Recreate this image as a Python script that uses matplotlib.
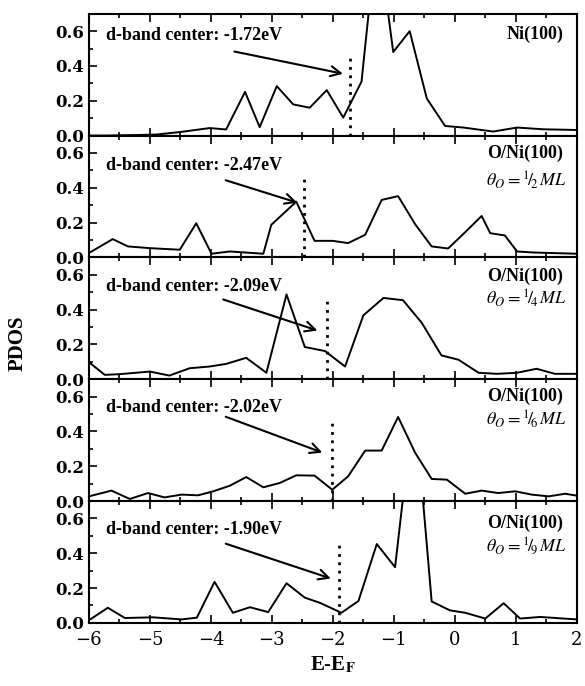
import numpy as np
import matplotlib
matplotlib.use('Agg')
import matplotlib.pyplot as plt
from matplotlib.ticker import MultipleLocator, FormatStrFormatter

plt.rcParams['mathtext.fontset'] = 'stix'
plt.rcParams['font.family'] = 'DejaVu Serif'

# panel 1: Ni(100)
e1 = [-6.0, -5.7, -5.45, -5.22, -4.89, -4.51, -4.02, -3.75, -3.44, -3.20, -2.92, -2.65, -2.38, -2.10,
      -1.83, -1.53, -1.37, -1.15, -1.01, -0.74, -0.46, -0.16, 0.14, 0.63, 1.02, 1.45, 2.0]
d1 = [0.0, 0.0, 0.002, 0.003, 0.006, 0.02, 0.043, 0.035, 0.251, 0.048, 0.284, 0.179, 0.16, 0.261,
      0.103, 0.31, 0.85, 0.85, 0.48, 0.60, 0.213, 0.055, 0.046, 0.023, 0.046, 0.036, 0.032]
# panel 2: 1/2 ML
e2 = [-6.0, -5.61, -5.36, -5.0, -4.51, -4.24, -3.99, -3.69, -3.14, -3.01, -2.60, -2.30, -2.0, -1.75,
      -1.47, -1.20, -0.93, -0.65, -0.38, -0.11, 0.17, 0.44, 0.58, 0.82, 1.02, 1.29, 2.0]
d2 = [0.025, 0.105, 0.063, 0.053, 0.044, 0.196, 0.021, 0.034, 0.021, 0.187, 0.32, 0.095, 0.095, 0.082,
      0.13, 0.33, 0.352, 0.19, 0.063, 0.051, 0.145, 0.238, 0.139, 0.126, 0.034, 0.028, 0.021]
# panel 3: 1/4 ML
e3 = [-6.0, -5.74, -5.5, -5.0, -4.68, -4.35, -4.02, -3.75, -3.42, -3.09, -2.76, -2.46, -2.13, -1.80,
      -1.5, -1.17, -0.85, -0.54, -0.22, 0.06, 0.39, 0.69, 1.02, 1.34, 1.64, 2.0]
d3 = [0.098, 0.025, 0.029, 0.044, 0.021, 0.063, 0.073, 0.088, 0.123, 0.037, 0.487, 0.185, 0.162, 0.073,
      0.367, 0.467, 0.454, 0.323, 0.137, 0.112, 0.037, 0.031, 0.037, 0.06, 0.031, 0.031]
# panel 4: 1/6 ML
e4 = [-6.0, -5.63, -5.33, -5.03, -4.76, -4.48, -4.21, -3.96, -3.69, -3.42, -3.14, -2.87, -2.60, -2.30,
      -2.01, -1.75, -1.47, -1.20, -0.93, -0.65, -0.38, -0.13, 0.17, 0.44, 0.71, 0.99, 1.26, 1.54, 1.81, 2.0]
d4 = [0.027, 0.06, 0.012, 0.046, 0.021, 0.037, 0.033, 0.056, 0.088, 0.138, 0.079, 0.104, 0.148, 0.146,
      0.065, 0.142, 0.29, 0.29, 0.483, 0.277, 0.127, 0.123, 0.042, 0.06, 0.046, 0.056, 0.037, 0.027, 0.042, 0.031]
# panel 5: 1/9 ML
e5 = [-6.0, -5.69, -5.41, -4.95, -4.48, -4.23, -3.94, -3.64, -3.36, -3.06, -2.76, -2.46, -2.21, -1.86,
      -1.58, -1.28, -0.98, -0.79, -0.57, -0.38, -0.08, 0.17, 0.50, 0.80, 1.07, 1.40, 2.0]
d5 = [0.015, 0.087, 0.028, 0.032, 0.02, 0.03, 0.236, 0.058, 0.09, 0.062, 0.228, 0.145, 0.115, 0.058,
      0.126, 0.453, 0.32, 0.9, 0.9, 0.123, 0.072, 0.058, 0.025, 0.113, 0.025, 0.034, 0.02]

energies = [e1, e2, e3, e4, e5]
pdos = [d1, d2, d3, d4, d5]
centers = [-1.72, -2.47, -2.09, -2.02, -1.90]
systems = ['Ni(100)', 'O/Ni(100)', 'O/Ni(100)', 'O/Ni(100)', 'O/Ni(100)']
coverages = [None, '2', '4', '6', '9']
# arrow tails and heads (E, PDOS), text y position
arrow_tail = [(-3.66, 0.486), (-3.80, 0.448), (-3.84, 0.463), (-3.80, 0.49), (-3.80, 0.46)]
arrow_head = [(-1.79, 0.352), (-2.54, 0.31), (-2.21, 0.275), (-2.13, 0.273), (-1.99, 0.25)]
text_y = [0.575, 0.53, 0.53, 0.537, 0.534]
sys_y = [0.58, 0.598, 0.59, 0.60, 0.57]
cov_y = [None, 0.444, 0.467, 0.47, 0.44]

fig = plt.figure(figsize=(5.85, 6.86), dpi=100)
fig.subplots_adjust(left=0.152, right=0.986, top=0.980, bottom=0.092, hspace=0)
axes = fig.subplots(5, 1, sharex=True)

for i, ax in enumerate(axes):
	ax.plot(energies[i], pdos[i], color='k', lw=1.4)
	ax.plot([centers[i], centers[i]], [0, 0.47], color='k', ls=(0, (1, 2)), lw=2)
	ax.annotate('', xy=arrow_head[i], xytext=arrow_tail[i],
		arrowprops=dict(arrowstyle='->', color='k', lw=1.5, mutation_scale=18))
	ax.text(-5.72, text_y[i], 'd-band center: %.2feV' % centers[i], family='Liberation Serif',
		fontweight='bold', fontsize=13, va='center', ha='left')
	ax.text(1.78, sys_y[i], systems[i], family='Liberation Serif', fontweight='bold',
		fontsize=13, va='center', ha='right')
	if coverages[i]:
		ax.text(1.84, cov_y[i], r'$\theta_O = {}^{1}\!/\!{}_{%s}\,ML$' % coverages[i],
			fontsize=13, va='center', ha='right')
	ax.set_xlim(-6, 2)
	ax.set_ylim(0, 0.7)
	ax.xaxis.set_major_locator(MultipleLocator(1))
	ax.xaxis.set_minor_locator(MultipleLocator(0.5))
	ax.yaxis.set_major_locator(MultipleLocator(0.2))
	ax.yaxis.set_minor_locator(MultipleLocator(0.1))
	ax.yaxis.set_major_formatter(FormatStrFormatter('%.1f'))
	ax.tick_params(which='both', direction='in', top=True, right=False, width=1.2)
	ax.tick_params(which='major', length=6, labelsize=12)
	ax.tick_params(which='minor', length=3)
	for s in ax.spines.values():
		s.set_linewidth(1.5)
	for lab in ax.get_yticklabels():
		lab.set_fontweight('bold')

axes[-1].tick_params(axis='x', labelsize=13, pad=6)
axes[-1].set_xlabel(r'E-E$_\mathbf{F}$', family='Liberation Serif', fontweight='bold', fontsize=15)
fig.text(0.03, 0.5, 'PDOS', rotation=90, family='Liberation Serif', fontweight='bold',
	fontsize=15, va='center', ha='center')

plt.savefig('out.png')
